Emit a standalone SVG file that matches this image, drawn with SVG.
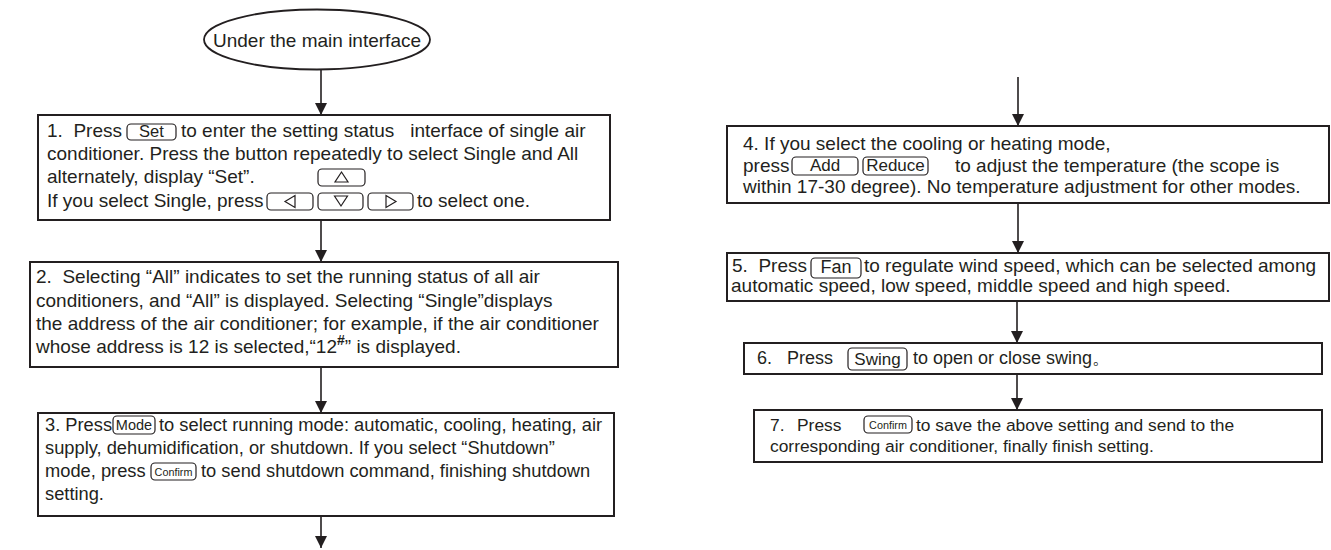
<svg xmlns="http://www.w3.org/2000/svg" width="1331" height="550" viewBox="0 0 1331 550">
<defs>
<marker id="ah" viewBox="0 0 12 12" refX="12" refY="6" markerWidth="12" markerHeight="12" markerUnits="userSpaceOnUse" orient="auto">
<path d="M0,0 L12,6 L0,12 z" fill="#231f20"/>
</marker>
<style>
.t{font-family:"Liberation Sans",Arial,sans-serif;font-size:19px;fill:#231f20}
.t3{font-family:"Liberation Sans",Arial,sans-serif;font-size:18.3px;fill:#231f20}
.s6{font-family:"Liberation Sans",Arial,sans-serif;font-size:18px;fill:#231f20}
.s7{font-family:"Liberation Sans",Arial,sans-serif;font-size:17.4px;fill:#231f20}
.b{font-family:"Liberation Sans",Arial,sans-serif;font-size:16.5px;fill:#231f20;text-anchor:middle}
.bs{font-family:"Liberation Sans",Arial,sans-serif;font-size:10.8px;fill:#231f20;text-anchor:middle}
.box{fill:#fff;stroke:#231f20;stroke-width:2}
.btn{fill:none;stroke:#231f20;stroke-width:1.2}
.c{stroke:#231f20;stroke-width:1.6;fill:none;marker-end:url(#ah)}
.tri{fill:none;stroke:#231f20;stroke-width:1.2}
</style>
</defs>
<rect width="1331" height="550" fill="#fff"/>

<g id="connectors">
<line class="c" x1="321" y1="70" x2="321" y2="115"/>
<line class="c" x1="321" y1="220" x2="321" y2="262"/>
<line class="c" x1="321" y1="367" x2="321" y2="413"/>
<line class="c" x1="321" y1="516" x2="321" y2="548"/>
<line class="c" x1="1018" y1="77" x2="1018" y2="126"/>
<line class="c" x1="1018" y1="203" x2="1018" y2="253"/>
<line class="c" x1="1017" y1="301" x2="1017" y2="343"/>
<line class="c" x1="1017" y1="374" x2="1017" y2="410"/>
</g>

<g id="start">
<ellipse cx="317" cy="39.5" rx="113" ry="30" fill="#fff" stroke="#231f20" stroke-width="1.8"/>
<text class="t" x="317" y="47" text-anchor="middle">Under the main interface</text>
</g>

<g id="step1">
<rect class="box" x="38" y="115" width="572" height="105"/>
<text class="t" x="47" y="137" xml:space="preserve">1.  Press</text>
<rect class="btn" x="127" y="124" width="49" height="16" rx="4"/>
<text class="b" x="151.5" y="137">Set</text>
<text class="t" x="181" y="137" xml:space="preserve">to enter the setting status   interface of single air</text>
<text class="t" x="47" y="160">conditioner. Press the button repeatedly to select Single and All</text>
<text class="t" x="47" y="183">alternately, display “Set”.</text>
<rect class="btn" x="318" y="169" width="47" height="17" rx="4"/>
<path class="tri" d="M341.5,172 L348,182 L335,182 Z"/>
<text class="t" x="47" y="207">If you select Single, press</text>
<rect class="btn" x="267" y="193" width="46" height="17" rx="4"/>
<path class="tri" d="M285,201.5 L295,195.5 L295,207.5 Z"/>
<rect class="btn" x="318" y="193" width="45" height="17" rx="4"/>
<path class="tri" d="M334.5,196 L347.5,196 L341,206 Z"/>
<rect class="btn" x="368" y="193" width="45" height="17" rx="4"/>
<path class="tri" d="M386,195.5 L396,201.5 L386,207.5 Z"/>
<text class="t" x="417" y="207">to select one.</text>
</g>

<g id="step2">
<rect class="box" x="30" y="262" width="588" height="105"/>
<text class="t" x="36" y="283" xml:space="preserve">2.  Selecting “All” indicates to set the running status of all air</text>
<text class="t" x="36" y="307">conditioners, and “All” is displayed. Selecting “Single”displays</text>
<text class="t" x="36" y="330">the address of the air conditioner; for example, if the air conditioner</text>
<text class="t" x="36" y="353">whose address is 12 is selected,“12<tspan dy="-8" style="font-size:14px;font-weight:bold">#</tspan><tspan dy="8">” is displayed.</tspan></text>
</g>

<g id="step3">
<rect class="box" x="38" y="413" width="576" height="103"/>
<text class="t3" x="45" y="431">3. Press</text>
<rect class="btn" x="113" y="416" width="42" height="18" rx="4"/>
<text class="b" x="134" y="430" style="font-size:14.5px">Mode</text>
<text class="t3" x="159" y="431">to select running mode: automatic, cooling, heating, air</text>
<text class="t3" x="45" y="454">supply, dehumidification, or shutdown. If you select “Shutdown”</text>
<text class="t3" x="45" y="477">mode, press</text>
<rect class="btn" x="151" y="463" width="45" height="17" rx="4"/>
<text class="bs" x="173.5" y="476">Confirm</text>
<text class="t3" x="201" y="477">to send shutdown command, finishing shutdown</text>
<text class="t3" x="45" y="500">setting.</text>
</g>

<g id="step4">
<rect class="box" x="727" y="126" width="602" height="77"/>
<text class="t" x="743" y="150">4. If you select the cooling or heating mode,</text>
<text class="t" x="743" y="172">press</text>
<rect class="btn" x="792" y="157" width="66" height="18" rx="4"/>
<text class="b" x="825" y="171" style="font-size:17px">Add</text>
<rect class="btn" x="863" y="157" width="65" height="18" rx="4"/>
<text class="b" x="895.5" y="171" style="font-size:17px">Reduce</text>
<text class="t" x="955" y="172">to adjust the temperature (the scope is</text>
<text class="t" x="743" y="193">within 17-30 degree). No temperature adjustment for other modes.</text>
</g>

<g id="step5">
<rect class="box" x="727" y="253" width="602" height="48"/>
<text class="t" x="732" y="272" xml:space="preserve">5.  Press</text>
<rect class="btn" x="811" y="258" width="50" height="20" rx="4"/>
<text class="b" x="836" y="273" style="font-size:18px">Fan</text>
<text class="t" x="864" y="272">to regulate wind speed, which can be selected among</text>
<text class="t" x="731" y="292">automatic speed, low speed, middle speed and high speed.</text>
</g>

<g id="step6">
<rect class="box" x="744" y="343" width="578" height="31"/>
<text class="s6" x="757" y="364">6.</text>
<text class="s6" x="787" y="364">Press</text>
<rect class="btn" x="848" y="348" width="59" height="22" rx="4"/>
<text class="b" x="877.5" y="365" style="font-size:17px">Swing</text>
<text class="s6" x="913" y="364">to open or close swing。</text>
</g>

<g id="step7">
<rect class="box" x="754" y="410" width="568" height="52"/>
<text class="s7" x="770" y="431">7.</text>
<text class="s7" x="797" y="431">Press</text>
<rect class="btn" x="864" y="416" width="48" height="17" rx="4"/>
<text class="bs" x="888" y="429">Confirm</text>
<text class="s7" x="916" y="431">to save the above setting and send to the</text>
<text class="s7" x="770" y="452">corresponding air conditioner, finally finish setting.</text>
</g>
</svg>
